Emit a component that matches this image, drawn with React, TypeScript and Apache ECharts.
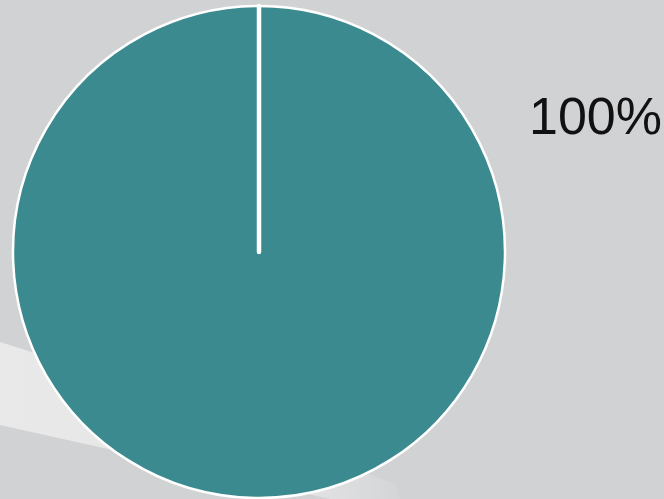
import React, { useEffect, useRef } from "react";
import * as echarts from "echarts";

const categories = ["Share", "Edge"];
const values = [100, 0];
const sliceColors = ["#3b8a8f", "#3b8a8f"];

export default function App() {
  const ref = useRef<HTMLDivElement>(null);

  useEffect(() => {
    if (!ref.current) return;
    const chart = echarts.init(ref.current, null, { renderer: "svg" });
    const total = values.reduce((a, b) => a + b, 0);
    const pctText = `${Math.round((values[0] / total) * 100)}%`;

    chart.setOption({
      animation: false,
      backgroundColor: "#d1d2d4",
      graphic: [
        {
          type: "polygon",
          z: -10,
          silent: true,
          shape: {
            points: [
              [0, 342],
              [120, 380],
              [260, 432],
              [395, 484],
              [400, 499],
              [330, 499],
              [180, 465],
              [0, 425],
            ],
          },
          style: {
            fill: new echarts.graphic.LinearGradient(0, 0, 1, 0, [
              { offset: 0, color: "#e9e9ea" },
              { offset: 0.75, color: "#e4e4e5" },
              { offset: 1, color: "#d4d5d7" },
            ]),
          },
        },
        {
          type: "text",
          x: 529,
          y: 115.5,
          silent: true,
          style: {
            text: pctText,
            fill: "#111111",
            fontFamily: "'Liberation Sans', Arial, sans-serif",
            fontSize: 52,
            align: "left",
            verticalAlign: "middle",
          },
        },
      ],
      series: [
        {
          type: "pie",
          center: [259, 252],
          radius: 246,
          startAngle: 90,
          clockwise: true,
          avoidLabelOverlap: false,
          label: { show: false },
          labelLine: { show: false },
          emphasis: { disabled: true },
          data: categories.map((name, i) => ({
            name,
            value: values[i],
            itemStyle: {
              color: sliceColors[i],
              borderColor: "#ffffff",
              borderWidth: i === 0 ? 2.5 : 4.5,
            },
          })),
        },
      ],
    });

    return () => chart.dispose();
  }, []);

  return (
    <div
      ref={ref}
      style={{ position: "fixed", left: 0, top: 0, width: 664, height: 499 }}
    />
  );
}
